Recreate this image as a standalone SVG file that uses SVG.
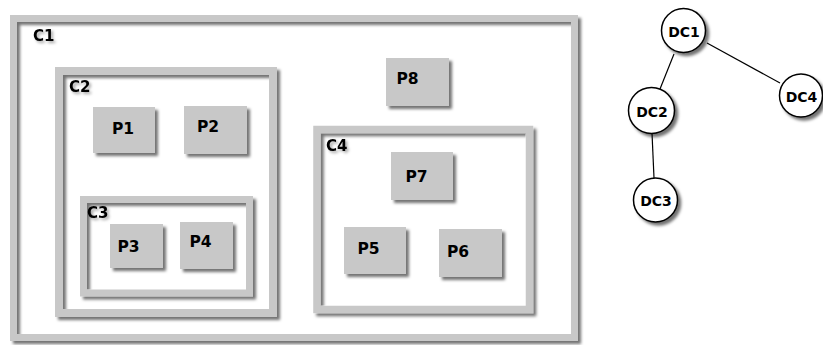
<svg xmlns="http://www.w3.org/2000/svg" width="823" height="345" viewBox="0 0 823 345">
<defs>
<filter id="sh" x="-10%" y="-10%" width="130%" height="130%">
<feGaussianBlur in="SourceAlpha" stdDeviation="1.8"/>
<feOffset dx="3" dy="3" result="b"/>
<feFlood flood-color="#000" flood-opacity="0.55"/>
<feComposite in2="b" operator="in" result="s"/>
<feMerge><feMergeNode in="s"/><feMergeNode in="SourceGraphic"/></feMerge>
</filter>
<filter id="tsh" x="-20%" y="-20%" width="160%" height="160%">
<feGaussianBlur in="SourceAlpha" stdDeviation="1.5"/>
<feOffset dx="2" dy="2" result="b"/>
<feFlood flood-color="#000" flood-opacity="0.35"/>
<feComposite in2="b" operator="in" result="s"/>
<feMerge><feMergeNode in="s"/><feMergeNode in="SourceGraphic"/></feMerge>
</filter>
</defs>
<style>
.c{fill:none;stroke:#c8c8c8;filter:url(#sh)}
.p{fill:#c8c8c8;filter:url(#sh)}
.t{font-family:"DejaVu Sans",sans-serif;font-weight:bold;font-size:15.5px;fill:#000}
.ct{filter:url(#tsh);font-size:15px}
.n{fill:#fff;stroke:#000;stroke-width:1.5;filter:url(#sh)}
.e{stroke:#000;stroke-width:1.2;fill:none}
.m{text-anchor:middle;font-size:14px}
</style>
<rect width="823" height="345" fill="#fff"/>
<g id="C1"><rect class="c" x="13.5" y="18.5" width="561" height="319" stroke-width="7"/><text class="t ct" x="33" y="41">C1</text></g>
<g id="C2"><rect class="c" x="59" y="71" width="214" height="242" stroke-width="8"/><text class="t ct" x="69" y="92">C2</text></g>
<g id="C3"><rect class="c" x="83.5" y="199.5" width="166" height="93.5" stroke-width="7"/><text class="t ct" x="87" y="218">C3</text></g>
<g id="C4"><rect class="c" x="317" y="129.5" width="212.5" height="180" stroke-width="7.5"/><text class="t ct" x="326" y="151">C4</text></g>
<g id="P1"><rect class="p" x="93" y="107" width="62" height="46"/><text class="t" x="112" y="134">P1</text></g>
<g id="P2"><rect class="p" x="184" y="106" width="63" height="48"/><text class="t" x="197" y="132">P2</text></g>
<g id="P3"><rect class="p" x="110" y="224" width="53" height="44"/><text class="t" x="117.5" y="251.5">P3</text></g>
<g id="P4"><rect class="p" x="180" y="222" width="53" height="47"/><text class="t" x="189.5" y="246.5">P4</text></g>
<g id="P8"><rect class="p" x="386" y="58" width="63" height="48"/><text class="t" x="396.5" y="83.5">P8</text></g>
<g id="P7"><rect class="p" x="391" y="152" width="62" height="48"/><text class="t" x="405.5" y="181.5">P7</text></g>
<g id="P5"><rect class="p" x="344" y="227" width="62" height="47"/><text class="t" x="357.5" y="254">P5</text></g>
<g id="P6"><rect class="p" x="439" y="229" width="63" height="48"/><text class="t" x="447" y="256.5">P6</text></g>
<g id="connectors">
<line class="e" x1="674" y1="54" x2="660" y2="89"/>
<line class="e" x1="707" y1="43" x2="780" y2="83"/>
<line class="e" x1="652" y1="133" x2="654" y2="178"/>
</g>
<g id="DC1"><circle class="n" cx="683.5" cy="30.5" r="22"/><text class="t m" x="684" y="36.5">DC1</text></g>
<g id="DC2"><circle class="n" cx="651.5" cy="110.5" r="23"/><text class="t m" x="652" y="116.5">DC2</text></g>
<g id="DC3"><circle class="n" cx="655.5" cy="200" r="22"/><text class="t m" x="656" y="206">DC3</text></g>
<g id="DC4"><circle class="n" cx="801" cy="95.5" r="21.5"/><text class="t m" x="801.5" y="101.5">DC4</text></g>
</svg>
